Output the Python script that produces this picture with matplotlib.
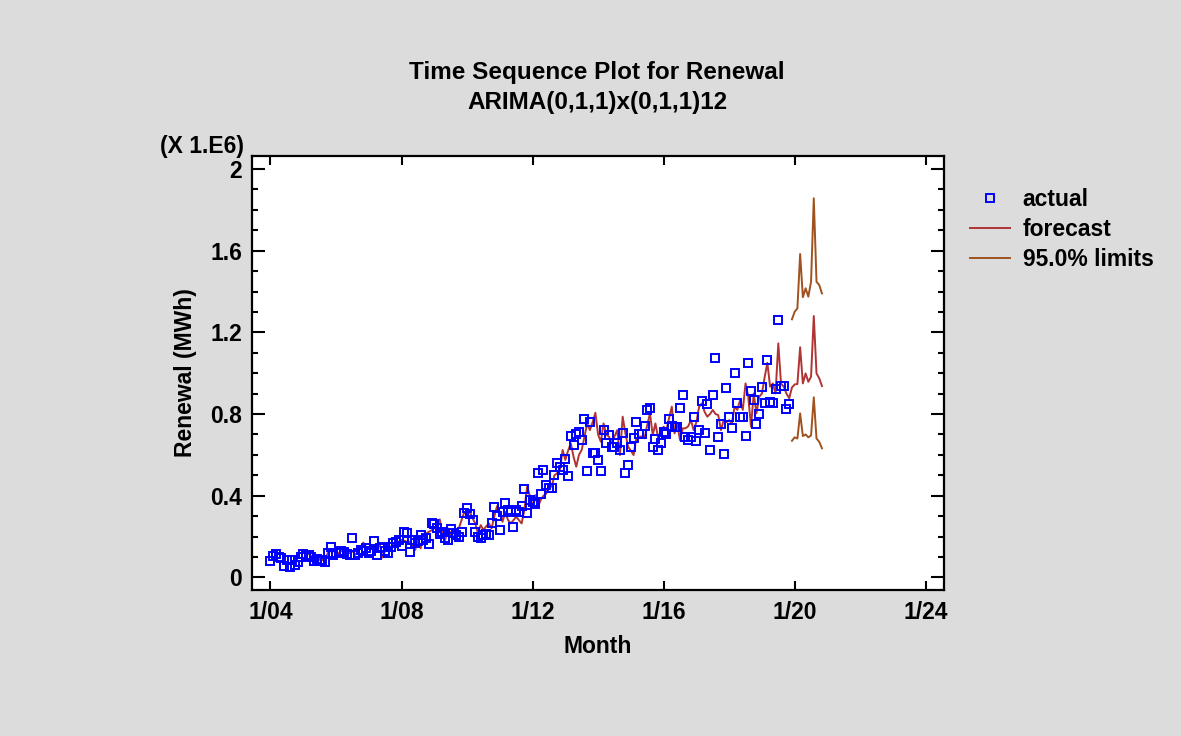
import matplotlib
matplotlib.use('Agg')
import matplotlib.pyplot as plt
import numpy as np
from matplotlib.lines import Line2D
from matplotlib.ticker import MultipleLocator, FixedLocator, FixedFormatter

plt.rcParams['font.family'] = ['Liberation Sans', 'DejaVu Sans']
plt.rcParams['font.weight'] = 'bold'

# ---------------- data (values in millions of MWh) ----------------
start_year = 2004          # first actual month: Jan 2004
forecast_start_index = 13  # one-step forecasts begin at Feb 2005

actual = [
    0.081, 0.105, 0.112, 0.100, 0.093, 0.055, 0.085, 0.052, 0.085, 0.060, 0.075, 0.100,   # 2004
    0.112, 0.104, 0.109, 0.100, 0.081, 0.090, 0.081, 0.085, 0.076, 0.118, 0.150, 0.110,   # 2005
    0.121, 0.118, 0.130, 0.125, 0.115, 0.109, 0.191, 0.109, 0.120, 0.134, 0.130, 0.142,   # 2006
    0.118, 0.130, 0.179, 0.109, 0.142, 0.150, 0.130, 0.118, 0.150, 0.167, 0.174, 0.183,   # 2007
    0.153, 0.223, 0.216, 0.125, 0.183, 0.170, 0.180, 0.207, 0.183, 0.191, 0.163, 0.267,   # 2008
    0.261, 0.240, 0.210, 0.223, 0.191, 0.183, 0.235, 0.216, 0.207, 0.200, 0.223, 0.316,   # 2009
    0.338, 0.310, 0.280, 0.220, 0.196, 0.191, 0.207, 0.210, 0.207, 0.264, 0.346, 0.300,   # 2010
    0.232, 0.321, 0.362, 0.330, 0.321, 0.248, 0.330, 0.321, 0.350, 0.431, 0.316, 0.379,   # 2011
    0.370, 0.359, 0.512, 0.410, 0.526, 0.452, 0.440, 0.436, 0.500, 0.558, 0.540, 0.526,   # 2012
    0.578, 0.496, 0.694, 0.648, 0.700, 0.713, 0.672, 0.774, 0.522, 0.762, 0.610, 0.607,   # 2013
    0.575, 0.522, 0.721, 0.656, 0.697, 0.640, 0.640, 0.660, 0.624, 0.705, 0.512, 0.550,   # 2014
    0.640, 0.681, 0.759, 0.700, 0.702, 0.740, 0.820, 0.828, 0.640, 0.676, 0.624, 0.660,   # 2015
    0.713, 0.700, 0.774, 0.741, 0.738, 0.738, 0.828, 0.893, 0.686, 0.672, 0.686, 0.784,   # 2016
    0.669, 0.721, 0.865, 0.708, 0.849, 0.624, 0.893, 1.073, 0.686, 0.750, 0.604, 0.929,   # 2017
    0.787, 0.730, 0.999, 0.852, 0.784, 0.787, 0.692, 1.051, 0.914, 0.868, 0.751, 0.800,   # 2018
    0.934, 0.855, 1.064, 0.860, 0.855, 0.921, 1.260, 0.937, 0.937, 0.823, 0.849,          # 2019 (Jan-Nov)
]

forecast = [
    0.110, 0.115, 0.105, 0.090, 0.070, 0.090, 0.085, 0.078, 0.120, 0.128, 0.130,          # 2005 (Feb-Dec)
    0.120, 0.118, 0.130, 0.134, 0.120, 0.118, 0.130, 0.110, 0.125, 0.150, 0.170, 0.150,   # 2006
    0.142, 0.140, 0.150, 0.134, 0.165, 0.097, 0.130, 0.142, 0.150, 0.160, 0.170, 0.175,   # 2007
    0.183, 0.180, 0.174, 0.174, 0.160, 0.134, 0.183, 0.142, 0.207, 0.215, 0.223, 0.230,   # 2008
    0.240, 0.260, 0.284, 0.207, 0.183, 0.240, 0.215, 0.191, 0.232, 0.240, 0.280, 0.321,   # 2009
    0.305, 0.321, 0.290, 0.264, 0.216, 0.256, 0.232, 0.250, 0.264, 0.240, 0.300, 0.349,   # 2010
    0.321, 0.272, 0.321, 0.281, 0.264, 0.280, 0.297, 0.280, 0.264, 0.330, 0.444, 0.400,   # 2011
    0.346, 0.403, 0.346, 0.380, 0.400, 0.410, 0.452, 0.444, 0.500, 0.510, 0.526, 0.624,   # 2012
    0.575, 0.620, 0.656, 0.591, 0.542, 0.600, 0.624, 0.689, 0.754, 0.721, 0.760, 0.806,   # 2013
    0.700, 0.664, 0.754, 0.700, 0.689, 0.656, 0.690, 0.721, 0.599, 0.787, 0.705, 0.640,   # 2014
    0.620, 0.599, 0.681, 0.689, 0.690, 0.681, 0.746, 0.803, 0.697, 0.754, 0.681, 0.720,   # 2015
    0.738, 0.721, 0.780, 0.836, 0.705, 0.754, 0.672, 0.730, 0.730, 0.740, 0.770, 0.721,   # 2016
    0.760, 0.836, 0.852, 0.811, 0.787, 0.800, 0.820, 0.800, 0.795, 0.721, 0.770, 0.760,   # 2017
    0.770, 0.754, 0.836, 0.820, 0.868, 0.820, 0.950, 0.885, 0.738, 0.901, 0.803, 0.885,   # 2018
    0.900, 0.980, 1.051, 0.934, 0.950, 0.901, 1.146, 0.950, 0.934, 0.900, 0.877,          # 2019 (Jan-Nov)
    0.930,                                                                                # Dec 2019
    0.945, 0.947, 1.127, 0.950, 0.999, 0.958, 0.983, 1.280, 0.999, 0.975, 0.937,          # 2020 (Jan-Nov)
]

upper_limit = [1.264, 1.301, 1.318, 1.584, 1.372, 1.416, 1.375, 1.448, 1.857, 1.448, 1.432, 1.391]
lower_limit = [0.669, 0.686, 0.680, 0.803, 0.692, 0.700, 0.686, 0.695, 0.882, 0.680, 0.664, 0.632]

x_tick_years = [2004, 2008, 2012, 2016, 2020, 2024]
x_tick_labels = ['1/04', '1/08', '1/12', '1/16', '1/20', '1/24']
y_tick_values = [0, 0.4, 0.8, 1.2, 1.6, 2.0]
y_tick_labels = ['0', '0.4', '0.8', '1.2', '1.6', '2']

# ---------------- derived time axes ----------------
t_actual = start_year + np.arange(len(actual)) / 12.0
t_fore = start_year + (forecast_start_index + np.arange(len(forecast))) / 12.0
limit_start = len(actual)
t_lim = start_year + (limit_start + np.arange(len(upper_limit))) / 12.0

# ---------------- figure ----------------
W, H = 1181, 736
fig = plt.figure(figsize=(W / 100, H / 100), dpi=100, facecolor='#DCDCDC')

L, R, T, B = 252, 944, 156, 590
ax = fig.add_axes([L / W, 1 - B / H, (R - L) / W, (B - T) / H])
ax.set_facecolor('white')

c_fore = '#B03434'
c_lim = '#A0521E'
FS = 16.5

ax.plot(t_lim, upper_limit, color=c_lim, lw=1.4, zorder=2)
ax.plot(t_lim, lower_limit, color=c_lim, lw=1.4, zorder=2)
ax.plot(t_fore, forecast, color=c_fore, lw=1.4, zorder=3)
ax.plot(t_actual, actual, linestyle='none', marker='s', markersize=6.2,
        markerfacecolor='none', markeredgecolor='#0000FF', markeredgewidth=1.4, zorder=4)

ax.set_xlim(2003.436, 2024.558)
ax.set_ylim(-0.062, 2.064)

ax.xaxis.set_major_locator(FixedLocator(x_tick_years))
ax.xaxis.set_major_formatter(FixedFormatter(x_tick_labels))
ax.yaxis.set_major_locator(FixedLocator(y_tick_values))
ax.yaxis.set_major_formatter(FixedFormatter(y_tick_labels))
ax.yaxis.set_minor_locator(MultipleLocator(0.1))

for sp in ax.spines.values():
    sp.set_linewidth(1.6)
    sp.set_color('black')

ax.tick_params(axis='both', which='both', direction='in', top=True, right=True,
               width=1.5, colors='black', labelsize=FS)
ax.tick_params(axis='x', which='major', length=6.5, pad=8)
ax.tick_params(axis='y', which='major', length=9.5, pad=7)
ax.tick_params(axis='y', which='minor', length=4.5)
for lab in ax.get_xticklabels() + ax.get_yticklabels():
    lab.set_fontweight('bold')

ax.set_xlabel('Month', fontsize=FS, fontweight='bold', labelpad=8)
ax.set_ylabel('Renewal (MWh)', fontsize=FS, fontweight='bold', labelpad=10)

fig.text(244 / W, 1 - 147 / H, '(X 1.E6)', ha='right', va='center',
         fontsize=FS, fontweight='bold')

fig.text(597 / W, 1 - 73 / H, 'Time Sequence Plot for Renewal', ha='center', va='center',
         fontsize=17.5, fontweight='bold')
fig.text(597 / W, 1 - 103 / H, 'ARIMA(0,1,1)x(0,1,1)12', ha='center', va='center',
         fontsize=17.5, fontweight='bold')

handles = [
    Line2D([], [], linestyle='none', marker='s', markersize=6.2, markerfacecolor='none',
           markeredgecolor='#0000FF', markeredgewidth=1.4),
    Line2D([], [], color=c_fore, lw=1.4),
    Line2D([], [], color=c_lim, lw=1.4),
]
leg = ax.legend(handles, ['actual', 'forecast', '95.0% limits'], loc='upper left',
                bbox_to_anchor=(970 / W, 1 - 188 / H), bbox_transform=fig.transFigure,
                frameon=False, fontsize=FS, handlelength=1.75, handletextpad=0.55,
                labelspacing=0.3, borderpad=0, borderaxespad=0)
for txt in leg.get_texts():
    txt.set_fontweight('bold')

fig.savefig('out.png', dpi=100, facecolor=fig.get_facecolor())
